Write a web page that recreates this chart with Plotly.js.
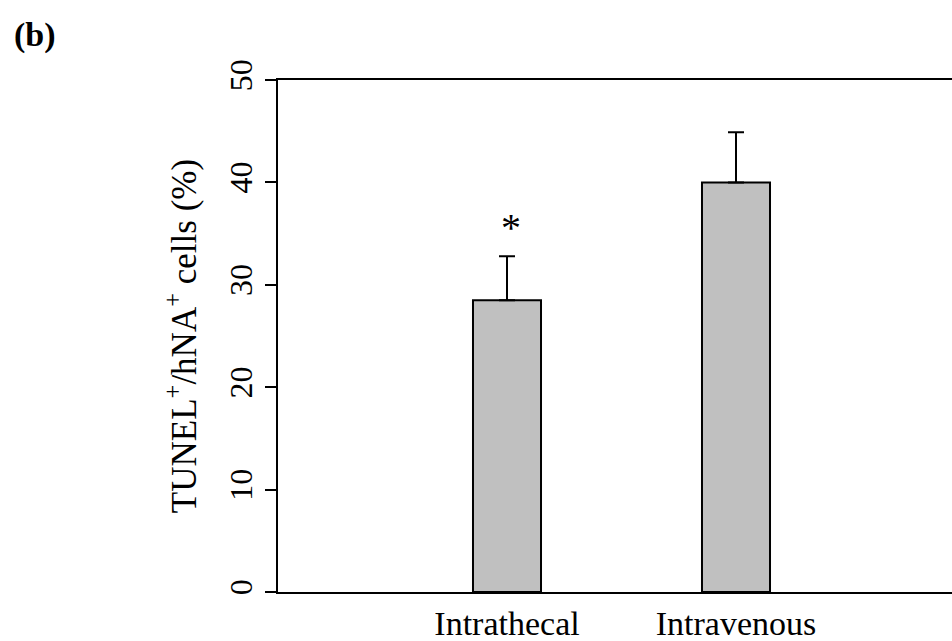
<!DOCTYPE html>
<html>
<head>
<meta charset="utf-8">
<script src="https://cdn.plot.ly/plotly-3.0.1.min.js"></script>
<style>html,body{margin:0;padding:0;background:#fff;}#chart{width:952px;height:641px;}</style>
</head>
<body>
<div id="chart"></div>
<script>
const categories = ["Intrathecal", "Intravenous"];
const positions = [1, 2];
const means = [28.5, 40];
const errors = [4.3, 4.9];
const significance = ["*", ""];
const yTicks = [0, 10, 20, 30, 40, 50];

const trace = {
  type: "bar",
  x: positions,
  y: means,
  width: 0.297,
  marker: {color: "#c0c0c0", line: {color: "#000", width: 2}},
  error_y: {type: "data", symmetric: false, array: errors, arrayminus: [0, 0], color: "#000", thickness: 2, width: 8},
  hoverinfo: "skip"
};

const annotations = [{
  xref: "paper", yref: "paper", x: -0.395, y: 1.088, xanchor: "left", yanchor: "middle",
  text: "<b>(b)</b>", showarrow: false, font: {family: "Liberation Serif", size: 34, color: "#000"}
}];
positions.forEach((p, i) => {
  if (significance[i]) {
    annotations.push({x: p, y: means[i] + errors[i], xref: "x", yref: "y", text: significance[i],
      showarrow: false, yanchor: "bottom", yshift: 4, xshift: 4,
      font: {family: "Liberation Serif", size: 40, color: "#000"}});
  }
});

const layout = {
  width: 952, height: 641,
  margin: {l: 278, r: 0, t: 80, b: 49},
  paper_bgcolor: "#fff", plot_bgcolor: "#fff",
  showlegend: false,
  xaxis: {
    range: [0, 674 / 229], tickvals: positions, ticktext: categories,
    showline: true, linecolor: "#000", linewidth: 2, mirror: true,
    ticks: "", showgrid: false, zeroline: false,
    tickfont: {family: "Liberation Serif", size: 34, color: "#000"}
  },
  yaxis: {
    range: [0, 50], tickvals: yTicks, ticks: "outside", ticklen: 11, tickwidth: 2, tickcolor: "#000",
    showline: true, linecolor: "#000", linewidth: 2, showgrid: false, zeroline: false,
    tickangle: -90,
    tickfont: {family: "Liberation Serif", size: 32, color: "#000"},
    title: {text: "TUNEL<sup>+</sup>/hNA<sup>+</sup> cells (%)", standoff: 16,
      font: {family: "Liberation Serif", size: 35, color: "#000"}}
  },
  annotations: annotations
};

Plotly.newPlot("chart", [trace], layout, {staticPlot: true, displayModeBar: false});
</script>
</body>
</html>
